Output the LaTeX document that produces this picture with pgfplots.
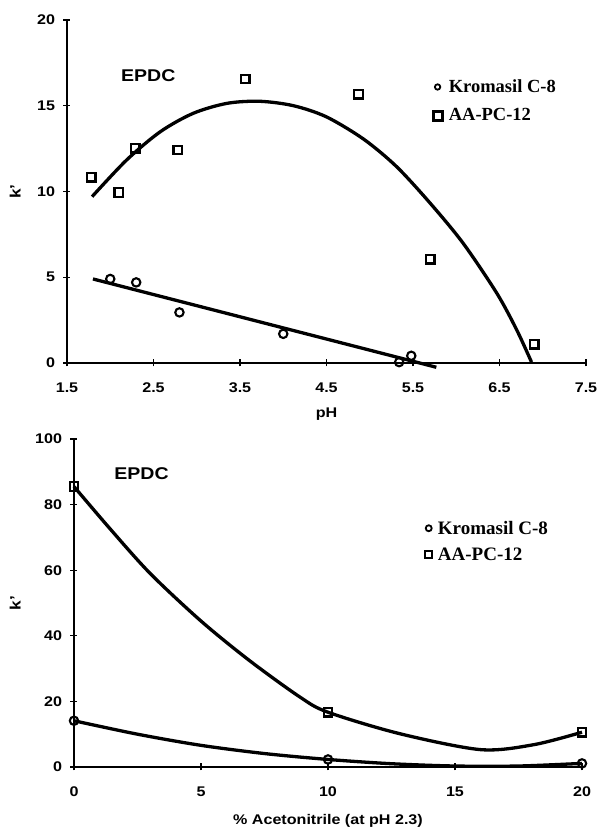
\documentclass[border=0pt]{standalone}
\usepackage{fontspec}
\setmainfont{Liberation Sans}[FakeStretch=1.15]
\newfontfamily\tms{Liberation Serif}
\usepackage{pgfplots}
\pgfplotsset{compat=1.18}
\begin{document}
\begin{tikzpicture}
\useasboundingbox (0pt,0pt) rectangle (598pt,828pt);
\pgfplotsset{
 myaxis/.style={
  scale only axis,
  anchor=south west,
  axis x line=bottom, axis y line=left,
  axis line style={-, line width=1.3pt},
  tick align=center, major tick length=7pt,
  every tick/.style={black, line width=1.1pt},
  /pgf/number format/assume math mode=true,
  tick label style={font=\bfseries\fontsize{14}{14}\selectfont},
  xticklabel style={yshift=-12.5pt},
  yticklabel style={xshift=-5pt},
  clip=false,
  legend cell align=left,
  legend style={draw=none, fill=none, inner sep=0pt,
    nodes={inner sep=2pt}},
 },
 fit/.style={black, line width=3.3pt, smooth, no markers, forget plot},
 kro/.style={only marks, mark=o, mark size=4.2pt, mark options={line width=2.1pt, black}},
 aa/.style={only marks, mark=square, mark size=4.3pt, mark options={line width=2.3pt, black}},
}
% ---------------- top panel ----------------
\begin{axis}[myaxis, at={(67pt,465pt)}, width=519pt, height=343pt,
  xmin=1.5, xmax=7.5, ymin=0, ymax=20,
  xtick={1.5,2.5,3.5,4.5,5.5,6.5,7.5},
  xticklabels={1.5,2.5,3.5,4.5,5.5,6.5,7.5},
  ytick={0,5,10,15,20},
  xlabel={pH}, ylabel={k'},
  every axis x label/.style={at={(axis description cs:0.5,-0.149)}, anchor=center, font=\bfseries\fontsize{14}{14}\selectfont},
  every axis y label/.style={at={(axis description cs:-0.1,0.5)}, rotate=90, anchor=center, font=\bfseries\fontsize{15}{15}\selectfont},
  legend style={at={(rel axis cs:0.705,0.832)}, anchor=north west,
    font=\tms\bfseries\fontsize{18.5}{20}\selectfont, row sep=10.5pt}]
\addplot[fit] coordinates {(1.8,4.9) (5.77,-0.25)};
\addplot[fit] coordinates {(1.79,9.7) (2.19,11.84) (2.58,13.49) (2.96,14.56) (3.35,15.14) (3.73,15.26) (4.12,15.0) (4.5,14.35) (4.93,13.05) (5.31,11.45) (5.7,9.31) (6.08,6.98) (6.47,4.06) (6.7,1.92) (6.87,0.05)};
\addplot[kro, legend image code/.code={\draw[mark size=2.7pt, mark options={line width=1.8pt}] plot coordinates {(0pt,0pt)}; \path (-3pt,0pt) (9pt,0pt);}]
  coordinates {(2.0,4.9) (2.3,4.7) (2.8,2.95) (4.0,1.7) (5.34,0.05) (5.48,0.42)};
\addlegendentry{Kromasil C-8}
\addplot[aa, legend image code/.code={\draw[mark size=4.5pt, mark options={line width=3pt}] plot coordinates {(0pt,0pt)}; \path (-3pt,0pt) (9pt,0pt);}]
  coordinates {(1.78,10.83) (2.1,9.95) (2.29,12.52) (2.78,12.42) (3.56,16.56) (4.87,15.68) (5.7,6.06) (6.9,1.09)};
\addlegendentry{AA-PC-12}
\node[font=\bfseries\fontsize{17}{17}\selectfont] at (axis cs:2.44,16.75) {EPDC};
\end{axis}
% ---------------- bottom panel ----------------
\begin{axis}[myaxis, at={(74pt,61pt)}, width=508pt, height=328pt,
  xmin=0, xmax=20, ymin=0, ymax=100,
  xtick={0,5,10,15,20},
  ytick={0,20,40,60,80,100},
  xlabel={\% Acetonitrile (at pH 2.3)}, ylabel={k'},
  every axis x label/.style={at={(axis description cs:0.5,-0.164)}, anchor=center, font=\bfseries\fontsize{14}{14}\selectfont},
  every axis y label/.style={at={(axis description cs:-0.116,0.5)}, rotate=90, anchor=center, font=\bfseries\fontsize{15}{15}\selectfont},
  legend style={at={(rel axis cs:0.691,0.757)}, anchor=north west,
    font=\tms\bfseries\fontsize{19}{20}\selectfont, row sep=8pt}]
\addplot[fit] coordinates {(0,85.5) (1.4,72.8) (3,59) (5,44.5) (6.9,32.5) (8.9,21.3) (10,16.7) (12.8,10.2) (16,5.3) (18.1,6.8) (20,10.6)};
\addplot[fit] coordinates {(0,14.1) (2.5,10) (5,6.6) (7.5,4.1) (10,2.3) (12.5,1.0) (15,0.3) (17.5,0.3) (20,1.1)};
\addplot[kro, legend image code/.code={\draw[mark size=3pt, mark options={line width=1.8pt}] plot coordinates {(0pt,0pt)}; \path (-3pt,0pt) (7pt,0pt);}]
  coordinates {(0,14.1) (10,2.3) (20,1.1)};
\addlegendentry{Kromasil C-8}
\addplot[aa, legend image code/.code={\draw[mark size=3.5pt, mark options={line width=2pt}] plot coordinates {(0pt,0pt)}; \path (-3pt,0pt) (7pt,0pt);}]
  coordinates {(0,85.5) (10,16.7) (20,10.6)};
\addlegendentry{AA-PC-12}
\node[font=\bfseries\fontsize{17}{17}\selectfont] at (axis cs:2.66,89.3) {EPDC};
\end{axis}
\end{tikzpicture}
\end{document}
